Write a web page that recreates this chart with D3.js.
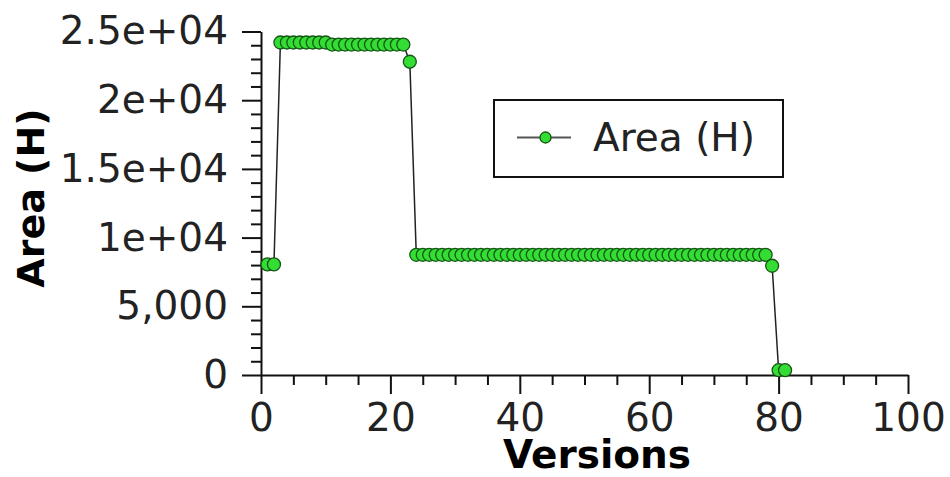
<!DOCTYPE html>
<html>
<head>
<meta charset="utf-8">
<script src="https://cdn.jsdelivr.net/npm/d3@7"></script>
<style>
  html, body { margin: 0; padding: 0; background: #fff; }
  svg { display: block; }
  text { font-family: "DejaVu Sans", Verdana, sans-serif; }
</style>
</head>
<body>
<svg id="chart" width="950" height="477"></svg>
<script>
// ---- data ----
const versions = [
  1, 2, 3, 4, 5, 6, 7, 8, 9, 10,
  11, 12, 13, 14, 15, 16, 17, 18, 19, 20,
  21, 22, 23, 24, 25, 26, 27, 28, 29, 30,
  31, 32, 33, 34, 35, 36, 37, 38, 39, 40,
  41, 42, 43, 44, 45, 46, 47, 48, 49, 50,
  51, 52, 53, 54, 55, 56, 57, 58, 59, 60,
  61, 62, 63, 64, 65, 66, 67, 68, 69, 70,
  71, 72, 73, 74, 75, 76, 77, 78, 79, 80,
  81
];
const areaH = [
  8050, 8050, 24200, 24200, 24200, 24200, 24200, 24200, 24200, 24200,
  24050, 24050, 24050, 24050, 24050, 24050, 24050, 24050, 24050, 24050,
  24050, 24050, 22800, 8750, 8750, 8750, 8750, 8750, 8750, 8750,
  8750, 8750, 8750, 8750, 8750, 8750, 8750, 8750, 8750, 8750,
  8750, 8750, 8750, 8750, 8750, 8750, 8750, 8750, 8750, 8750,
  8750, 8750, 8750, 8750, 8750, 8750, 8750, 8750, 8750, 8750,
  8750, 8750, 8750, 8750, 8750, 8750, 8750, 8750, 8750, 8750,
  8750, 8750, 8750, 8750, 8750, 8750, 8750, 8750, 7950, 350,
  350
];
const xMajorTicks = [0, 20, 40, 60, 80, 100];
const xMinorTicks = [5, 10, 15, 25, 30, 35, 45, 50, 55, 65, 70, 75, 85, 90, 95];
const yMajorTicks = [0, 5000, 10000, 15000, 20000, 25000];
const yTickLabels = ["0", "5,000", "1e+04", "1.5e+04", "2e+04", "2.5e+04"];
const yMinorTicks = [1000, 2000, 3000, 4000, 6000, 7000, 8000, 9000, 11000, 12000, 13000, 14000,
                     16000, 17000, 18000, 19000, 21000, 22000, 23000, 24000];
const seriesName = "Area (H)";
const xTitle = "Versions";
const yTitle = "Area (H)";

// ---- layout ----
const plotLeft = 261, plotRight = 908, plotTop = 31.5, plotBottom = 375;
const svg = d3.select("#chart");
const x = d3.scaleLinear().domain([0, 100]).range([plotLeft, plotRight]);
const y = d3.scaleLinear().domain([0, 25000]).range([plotBottom, plotTop]);

const fontSize = 39;
const axisColor = "#111";

function styleAxis(g) {
  g.select(".domain").attr("stroke", axisColor).attr("stroke-width", 2);
  g.selectAll(".tick line").attr("stroke", axisColor).attr("stroke-width", 2);
  g.selectAll(".tick text").attr("fill", "#222").style("font-size", fontSize + "px")
    .style("font-family", "'DejaVu Sans', Verdana, sans-serif");
}

// x minor
svg.append("g").attr("transform", `translate(0,${plotBottom})`)
  .call(d3.axisBottom(x).tickValues(xMinorTicks).tickSize(10).tickFormat(""))
  .call(g => { g.select(".domain").remove(); g.selectAll(".tick line").attr("stroke", axisColor).attr("stroke-width", 2); });
// x major
svg.append("g").attr("transform", `translate(0,${plotBottom})`)
  .call(d3.axisBottom(x).tickValues(xMajorTicks).tickSize(19).tickSizeOuter(0).tickPadding(9).tickFormat(d3.format("d")))
  .call(styleAxis);

// y minor
svg.append("g").attr("transform", `translate(${plotLeft},0)`)
  .call(d3.axisLeft(y).tickValues(yMinorTicks).tickSize(10).tickFormat(""))
  .call(g => { g.select(".domain").remove(); g.selectAll(".tick line").attr("stroke", axisColor).attr("stroke-width", 2); });
// y major
svg.append("g").attr("transform", `translate(${plotLeft},0)`)
  .call(d3.axisLeft(y).tickValues(yMajorTicks).tickSize(19).tickSizeOuter(0).tickPadding(14)
    .tickFormat((d, i) => yTickLabels[i]))
  .call(styleAxis);

// titles
svg.append("text")
  .attr("x", 597).attr("y", 468)
  .attr("text-anchor", "middle")
  .attr("font-weight", "bold")
  .attr("fill", "#000")
  .style("font-size", fontSize + "px")
  .text(xTitle);

svg.append("text")
  .attr("transform", `translate(44,198) rotate(-90)`)
  .attr("text-anchor", "middle")
  .attr("font-weight", "bold")
  .attr("fill", "#000")
  .style("font-size", "38px")
  .text(yTitle);

// series
const data = versions.map((v, i) => ({ x: v, y: areaH[i] }));
const line = d3.line().x(d => x(d.x)).y(d => y(d.y));
svg.append("path").datum(data)
  .attr("d", line)
  .attr("fill", "none")
  .attr("stroke", "#222")
  .attr("stroke-width", 1.5);

svg.append("g").selectAll("circle").data(data).join("circle")
  .attr("cx", d => x(d.x)).attr("cy", d => y(d.y))
  .attr("r", 6.5)
  .attr("fill", "#33dd33")
  .attr("stroke", "#155515")
  .attr("stroke-width", 1.3);

// legend
const lg = svg.append("g");
lg.append("rect")
  .attr("x", 494).attr("y", 100).attr("width", 289).attr("height", 77)
  .attr("fill", "#fff").attr("stroke", "#111").attr("stroke-width", 2);
lg.append("line")
  .attr("x1", 517).attr("x2", 571).attr("y1", 137.5).attr("y2", 137.5)
  .attr("stroke", "#555").attr("stroke-width", 2);
lg.append("circle")
  .attr("cx", 545.5).attr("cy", 137.5).attr("r", 5.5)
  .attr("fill", "#33dd33").attr("stroke", "#155515").attr("stroke-width", 1.3);
lg.append("text")
  .attr("x", 593).attr("y", 137.5).attr("dy", "0.35em")
  .attr("fill", "#222")
  .style("font-size", fontSize + "px")
  .text(seriesName);
</script>
</body>
</html>
